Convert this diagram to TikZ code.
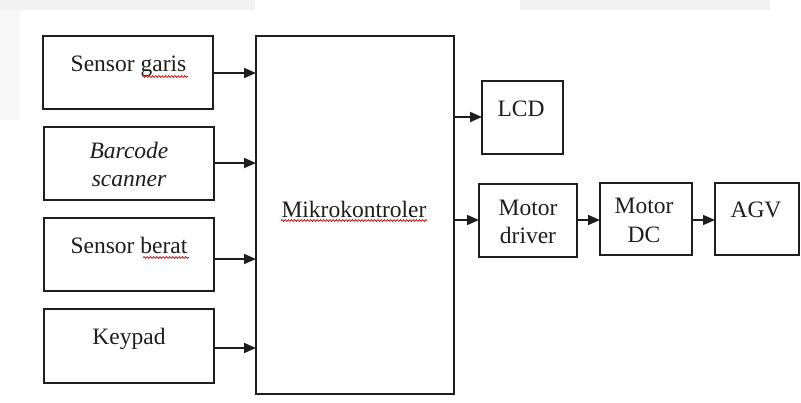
\documentclass[tikz,border=0pt]{standalone}
\usepackage{fontspec}
\setmainfont{Liberation Serif}
\usetikzlibrary{arrows.meta,decorations.pathmorphing}
\definecolor{ink}{HTML}{1E1E1E}
\definecolor{bgband}{HTML}{F2F2F2}
\definecolor{bgfaint}{HTML}{F8F8F8}
\tikzset{
  box/.style={draw=ink, line width=1.8pt, minimum width=#1, inner sep=0pt, outer sep=0pt},
  txt/.style={anchor=base, inner sep=0pt, text=ink, font=\fontsize{23.5}{28}\selectfont},
  arr/.style={draw=ink, line width=1.8pt, -{Triangle[length=12pt,width=10pt]}},
  squiggle/.style={draw=red!80!black, line width=0.7pt, decorate, decoration={snake, amplitude=0.9pt, segment length=3.2pt}}
}
\begin{document}
\begin{tikzpicture}[x=1pt,y=-1pt]
\useasboundingbox (0,0) rectangle (801,402);
\fill[white] (0,0) rectangle (801,402);
% faint screenshot bands
\fill[bgband] (0,0) rectangle (255,10);
\fill[bgband] (520,0) rectangle (770,10);
\fill[bgfaint] (0,10) rectangle (20,120);

% boxes
\node[box=170pt, minimum height=73pt] (sg) at (128,72.5) {};
\node[box=170pt, minimum height=73pt] (bc) at (129,163.5) {};
\node[box=170pt, minimum height=73pt] (sb) at (129,254.5) {};
\node[box=170pt, minimum height=74pt] (kp) at (129,346) {};
\node[box=198pt, minimum height=358pt] (mk) at (355,215) {};
\node[box=81pt, minimum height=73pt] (lcd) at (522.5,117.5) {};
\node[box=98pt, minimum height=73pt] (md) at (528,220.5) {};
\node[box=92pt, minimum height=72pt] (mdc) at (646,219) {};
\node[box=84pt, minimum height=72pt] (agv) at (757,219) {};

% texts
\node[txt] (tsg) at (128.5,71) {Sensor garis};
\node[txt] (tbc1) at (129,158) {\itshape Barcode};
\node[txt] (tbc2) at (129,186) {\itshape scanner};
\node[txt] (tsb) at (129,253) {Sensor berat};
\node[txt] (tkp) at (129,344) {Keypad};
\node[txt] (tmk) at (354,217) {Mikrokontroler};
\node[txt] (tlcd) at (521,116) {LCD};
\node[txt] (tmd1) at (528,215) {Motor};
\node[txt] (tmd2) at (528,243) {driver};
\node[txt] (tmdc1) at (644,213) {Motor};
\node[txt] (tmdc2) at (644,242) {DC};
\node[txt] (tagv) at (756,217) {AGV};

% spell-check squiggles
\draw[squiggle] (142,76.5) -- (188,76.5);
\draw[squiggle] (143,257.5) -- (189,257.5);
\draw[squiggle] (281,220.5) -- (427,220.5);

% connectors
\draw[arr] ([yshift=-0.5pt]sg.east) -- ([yshift=-0.5pt]sg.east -| mk.west);
\draw[arr] ([yshift=0.5pt]bc.east) -- ([yshift=0.5pt]bc.east -| mk.west);
\draw[arr] ([yshift=-4.5pt]sb.east) -- ([yshift=-4.5pt]sb.east -| mk.west);
\draw[arr] ([yshift=-2pt]kp.east) -- ([yshift=-2pt]kp.east -| mk.west);
\draw[arr] ([yshift=0.5pt]mk.east |- lcd.west) -- ([yshift=0.5pt]lcd.west);
\draw[arr] ([yshift=0.5pt]mk.east |- md.west) -- ([yshift=0.5pt]md.west);
\draw[arr] ([yshift=0.5pt]md.east) -- ([yshift=0.5pt]md.east -| mdc.west);
\draw[arr] ([yshift=-1pt]mdc.east) -- ([yshift=-1pt]mdc.east -| agv.west);
\end{tikzpicture}
\end{document}
